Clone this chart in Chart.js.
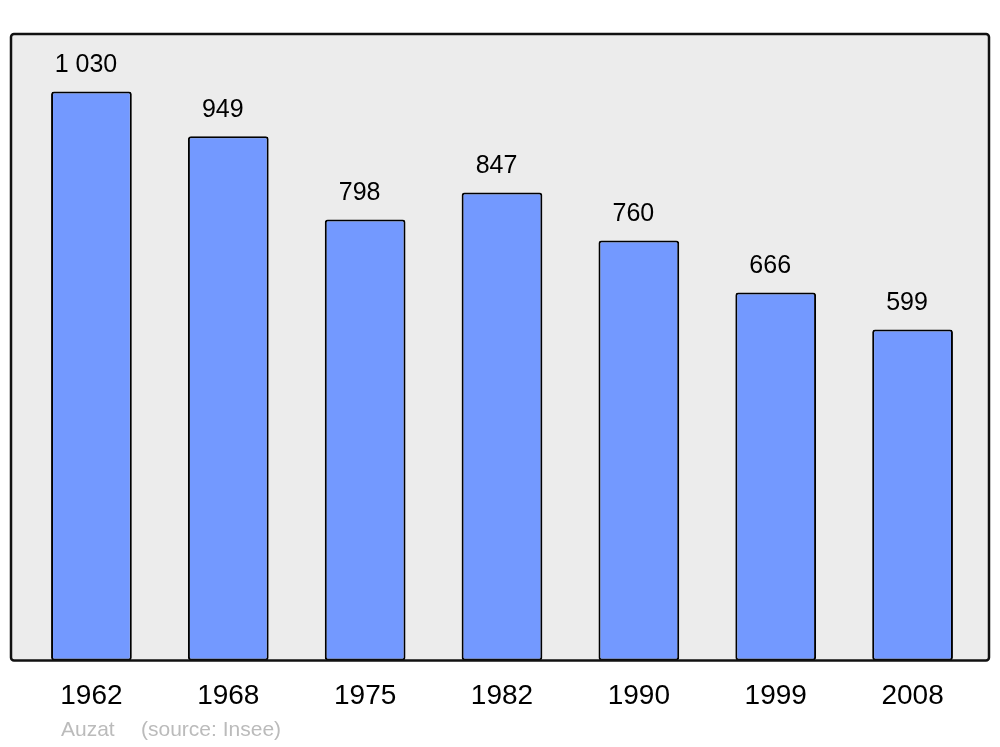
<!DOCTYPE html>
<html>
<head>
<meta charset="utf-8">
<script src="https://cdn.jsdelivr.net/npm/chart.js@4/dist/chart.umd.min.js"></script>
<style>
  html, body { margin: 0; padding: 0; background: #fff; }
  #wrap { width: 1000px; height: 747px; }
</style>
</head>
<body>
<div id="wrap"><canvas id="popChart" width="1000" height="747"></canvas></div>
<script>
const years = ["1962", "1968", "1975", "1982", "1990", "1999", "2008"];
const population = [1030, 949, 798, 847, 760, 666, 599];
const commune = "Auzat";
const source = "(source: Insee)";

// format "1 030" with a space as thousands separator
function fmt(n) {
    return String(n).replace(/\B(?=(\d{3})+(?!\d))/g, " ");
}

// grey frame behind the bars
const framePlugin = {
    id: "frame",
    beforeDraw(chart) {
        const c = chart.ctx;
        const area = chart.chartArea;
        c.save();
        c.beginPath();
        c.roundRect(11, area.top, 978, area.bottom - area.top, 3);
        c.fillStyle = "#ececec";
        c.fill();
        c.restore();
    },
    afterDatasetsDraw(chart) {
        const c = chart.ctx;
        const area = chart.chartArea;
        c.save();
        c.beginPath();
        c.roundRect(11, area.top, 978, area.bottom - area.top, 3);
        c.lineWidth = 2.5;
        c.strokeStyle = "#111";
        c.stroke();

        // value labels above each bar
        const meta = chart.getDatasetMeta(0);
        c.font = "25px 'Liberation Sans', Arial, sans-serif";
        c.fillStyle = "#000";
        c.textAlign = "center";
        c.textBaseline = "middle";
        meta.data.forEach((bar, i) => {
            c.fillText(fmt(population[i]), bar.x - 5.5, bar.y - 26);
        });

        // footer
        c.font = "21px 'Liberation Sans', Arial, sans-serif";
        c.fillStyle = "#bbb";
        c.textAlign = "left";
        c.fillText(commune, 61, 730);
        c.fillText(source, 141, 730);
        c.restore();
    }
};

const ctx = document.getElementById("popChart").getContext("2d");
new Chart(ctx, {
    type: "bar",
    data: {
        labels: years,
        datasets: [{
            data: population,
            backgroundColor: "#7399ff",
            borderColor: "#000",
            borderWidth: 2,
            borderRadius: 3,
            borderSkipped: false,
            categoryPercentage: 1,
            barPercentage: 0.59
        }]
    },
    options: {
        responsive: false,
        animation: false,
        layout: {
            padding: { left: 23, right: 19, top: 34, bottom: 15 }
        },
        plugins: {
            legend: { display: false },
            tooltip: { enabled: false }
        },
        scales: {
            x: {
                grid: { display: false, drawTicks: false },
                border: { display: false },
                ticks: {
                    color: "#000",
                    padding: 19,
                    font: { family: "'Liberation Sans', Arial, sans-serif", size: 28 }
                }
            },
            y: {
                display: false,
                min: 0,
                max: 1134
            }
        }
    },
    plugins: [framePlugin]
});
</script>
</body>
</html>
